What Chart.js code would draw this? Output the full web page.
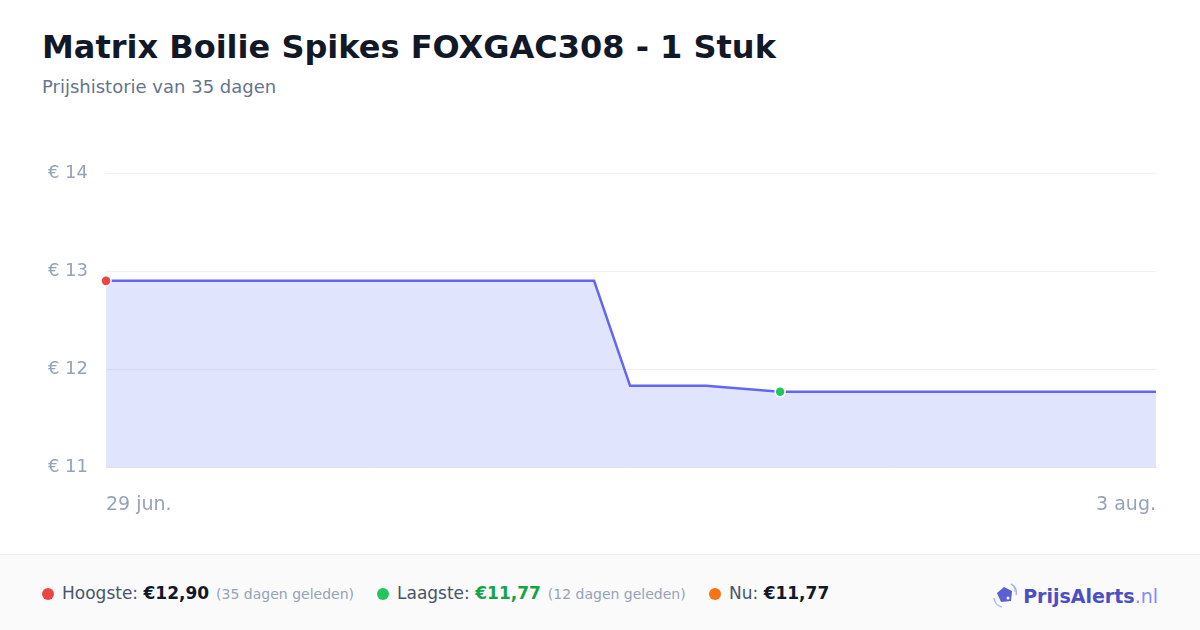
<!DOCTYPE html>
<html>
<head>
<meta charset="utf-8">
<script src="https://cdn.jsdelivr.net/npm/chart.js@4"></script>
<style>
    body { margin: 0; width: 1200px; height: 630px; background: #fff; font-family: "DejaVu Sans", sans-serif; position: relative; overflow: hidden; }
    h1 { position: absolute; left: 42px; top: 28px; margin: 0; font-size: 32px; font-weight: bold; color: #111827; }
    .sub { position: absolute; left: 42px; top: 76px; font-size: 18px; color: #64748b; }
    #wrap { position: absolute; left: 0; top: 140px; width: 1200px; height: 394px; }
    .footer { position: absolute; left: 0; top: 554px; width: 1200px; height: 76px; background: #fafafa; border-top: 1px solid #eeeeee; }
    .item { position: absolute; top: 28px; font-size: 17px; color: #475569; white-space: nowrap; }
    .dot { display: inline-block; width: 12px; height: 12px; border-radius: 50%; margin-right: 8px; vertical-align: -1px; }
    .val { font-weight: bold; color: #111827; font-size: 17px; }
    .ago { font-size: 14px; color: #94a3b8; margin-left: 7px; }
    .logo { position: absolute; right: 42px; top: 26px; font-size: 19px; font-weight: bold; color: #4a4fc4; }
    .logo span { font-weight: normal; color: #818cf8; }
    .logo svg { vertical-align: -6px; margin-right: 3px; }
</style>
</head>
<body>
<h1>Matrix Boilie Spikes FOXGAC308 - 1 Stuk</h1>
<div class="sub">Prijshistorie van 35 dagen</div>
<div id="wrap"><canvas id="priceChart"></canvas></div>
<div class="footer">
    <div class="item" style="left:42px"><i class="dot" style="background:#ef4444"></i>Hoogste: <b class="val">€12,90</b><span class="ago">(35 dagen geleden)</span></div>
    <div class="item" style="left:377px"><i class="dot" style="background:#22c55e"></i>Laagste: <b class="val" style="color:#16a34a">€11,77</b><span class="ago">(12 dagen geleden)</span></div>
    <div class="item" style="left:709px"><i class="dot" style="background:#f97316"></i>Nu: <b class="val">€11,77</b></div>
    <div class="logo"><svg width="28" height="28" viewBox="0 0 28 28"><path d="M5 12 L12 6 L20 10 L19 20 L9 21 Z" fill="#5b5fd6"/><circle cx="16" cy="17" r="1.5" fill="#fff"/><path d="M19 3 a9 9 0 0 1 5 11" stroke="#a5b4fc" stroke-width="1.5" fill="none"/><path d="M21 5 a6 6 0 0 1 2 6" stroke="#a5b4fc" stroke-width="1.2" fill="none"/><path d="M2 17 a10 10 0 0 0 8 9" stroke="#a5b4fc" stroke-width="1.5" fill="none"/></svg>PrijsAlerts<span>.nl</span></div>
</div>
<script>
// Price data: days since first measurement (29 jun.) and price in euro
const dayOffsets = [0, 16.27, 17.47, 20, 22.47, 35];
const prices = [12.90, 12.90, 11.83, 11.83, 11.77, 11.77];

// X axis labels only on first and last day
const xTickDays = [0, 35];
const xTickLabels = ['29 jun.', '3 aug.'];
const yTicks = [11, 12, 13, 14];

const highIndex = 0;
const lowIndex = 4;

const tickColor = '#94a3b8';

const points = dayOffsets.map((d, i) => ({ x: d, y: prices[i] }));

new Chart(document.getElementById('priceChart'), {
    type: 'line',
    data: {
        datasets: [{
            data: points,
            borderColor: '#6366f1',
            borderWidth: 2.5,
            backgroundColor: 'rgba(99, 120, 241, 0.2)',
            fill: 'start',
            tension: 0,
            clip: false,
            pointRadius: points.map((_, i) => (i === highIndex || i === lowIndex) ? 5 : 0),
            pointBackgroundColor: points.map((_, i) => i === highIndex ? '#ef4444' : '#22c55e'),
            pointBorderColor: '#ffffff',
            pointBorderWidth: 1.5
        }]
    },
    options: {
        responsive: true,
        maintainAspectRatio: false,
        animation: false,
        layout: { padding: { top: 33, right: 44, left: 0, bottom: 0 } },
        plugins: { legend: { display: false }, tooltip: { enabled: false } },
        scales: {
            x: {
                type: 'linear',
                min: 0,
                max: 35,
                afterBuildTicks: function(axis) {
                    axis.ticks = xTickDays.map(v => ({ value: v }));
                },
                ticks: {
                    color: tickColor,
                    font: { family: 'DejaVu Sans', size: 19 },
                    padding: 18,
                    align: 'inner',
                    maxRotation: 0,
                    callback: function(value) {
                        const i = xTickDays.indexOf(value);
                        return i >= 0 ? xTickLabels[i] : '';
                    }
                },
                grid: { display: false },
                border: { color: '#e2e2ea', width: 1 }
            },
            y: {
                min: 11,
                max: 14,
                afterBuildTicks: function(axis) {
                    axis.ticks = yTicks.map(v => ({ value: v }));
                },
                afterFit: function(axis) { axis.width = 106; },
                ticks: {
                    color: tickColor,
                    font: { family: 'DejaVu Sans', size: 18 },
                    padding: 18,
                    callback: v => '€ ' + v
                },
                grid: { color: '#f0f0f2', drawTicks: false },
                border: { display: false }
            }
        }
    }
});
</script>
</body>
</html>
